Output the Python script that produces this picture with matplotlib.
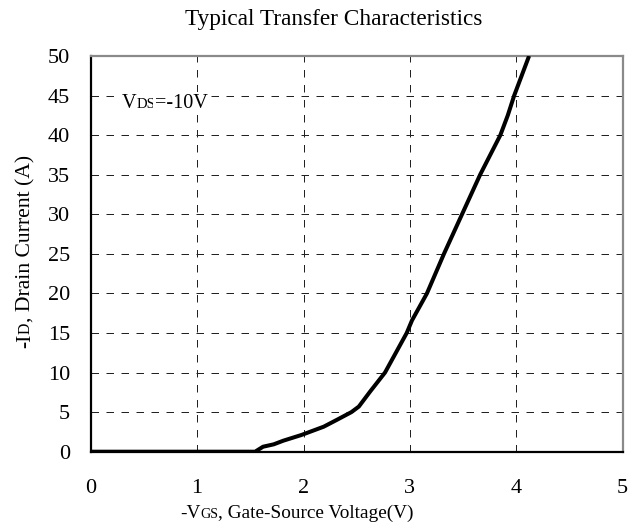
import matplotlib
matplotlib.use("Agg")
import matplotlib.pyplot as plt
from matplotlib.transforms import IdentityTransform

# ---- data ----
vgs = [0.0, 1.545, 1.62, 1.72, 1.81, 1.98, 2.19, 2.31, 2.45, 2.52, 2.625,
       2.766, 2.97, 3.02, 3.16, 3.32, 3.49, 3.66, 3.85, 3.92, 3.98, 4.12]
id_a = [0.0, 0.0, 0.63, 0.93, 1.39, 2.11, 3.16, 4.0, 5.0, 5.7, 7.58,
        10.0, 15.0, 16.6, 20.0, 25.0, 30.0, 35.0, 40.0, 42.5, 45.0, 50.0]
x_ticks = [0, 1, 2, 3, 4, 5]
y_ticks = [0, 5, 10, 15, 20, 25, 30, 35, 40, 45, 50]
title = "Typical Transfer Characteristics"
xlabel_pieces = [("-V", 1.0), ("GS", 0.73), (", Gate-Source Voltage(V)", 1.0)]
ylabel_pieces = [("-I", 1.0), ("D", 0.73), (", Drain Current (A)", 1.0)]
note_pieces = [("V", 1.0), ("DS", 0.73), ("=-10V", 1.0)]

SERIF = "Liberation Serif"
W, H = 628, 530
fig = plt.figure(figsize=(W / 100, H / 100), dpi=100)
L, R, T, B = 90.7, 622.7, 56.0, 451.7
ax = fig.add_axes([L / W, 1 - B / H, (R - L) / W, (B - T) / H])

ax.plot(vgs, id_a, color="black", lw=2.9, solid_joinstyle="round",
        solid_capstyle="butt", zorder=3)
ax.set_xlim(0, 5)
ax.set_ylim(0, 50)
ax.set_xticks(x_ticks)
ax.set_yticks(y_ticks)
ax.grid(True, color="#222222", linestyle=(0, (7.5, 7.5)), linewidth=0.72)
ax.tick_params(length=0, labelsize=16)
ax.tick_params(axis="x", pad=19.5)
ax.tick_params(axis="y", pad=15)
for lab in ax.get_xticklabels() + ax.get_yticklabels():
    lab.set_family(SERIF)
for s in ("left", "bottom"):
    ax.spines[s].set_color("black")
    ax.spines[s].set_linewidth(1.6)
for s in ("top", "right"):
    ax.spines[s].set_color("#8a8a8a")
    ax.spines[s].set_linewidth(1.6)

renderer = fig.canvas.get_renderer()


def seq_length(pieces, base, rotation=0):
    tot = 0
    for s, k in pieces:
        t = fig.text(0, 0, s, fontsize=base * k, family=SERIF, rotation=rotation,
                     transform=IdentityTransform())
        bb = t.get_window_extent(renderer)
        tot += bb.height if rotation == 90 else bb.width
        t.remove()
    return tot


def seq_text(pieces, x0, x1, ybase, rotation=0, bg=False):
    """Place pieces along a line spanning x0..x1 (image px); ybase is baseline
    (image px from top) for horizontal, or baseline x for vertical."""
    target = abs(x1 - x0)
    l10 = seq_length(pieces, 10, rotation)
    base = 10 * target / l10
    pos = min(x0, x1)
    for s, k in pieces:
        if rotation == 90:
            xy = (ybase, H - (max(x0, x1) - (pos - min(x0, x1))))
        else:
            xy = (pos, H - ybase)
        t = fig.text(xy[0], xy[1], s, fontsize=base * k, family=SERIF,
                     rotation=rotation, rotation_mode="anchor", ha="left",
                     va="baseline", transform=IdentityTransform(), zorder=5)
        if bg:
            t.set_bbox(dict(facecolor="white", edgecolor="none", pad=1.5))
        bb = t.get_window_extent(renderer)
        pos += bb.height if rotation == 90 else bb.width
    return base


# title
seq_text([(title, 1.0)], 185, 482, 25)
# x label
seq_text(xlabel_pieces, 180, 413, 518)
# y label (vertical, reading bottom to top): spans image y 348 (bottom) .. 155 (top)
seq_text(ylabel_pieces, 155, 348, 30, rotation=90)
# V_DS note
seq_text(note_pieces, 121.7, 208, 108, bg=True)

fig.savefig("out.png", dpi=100)
